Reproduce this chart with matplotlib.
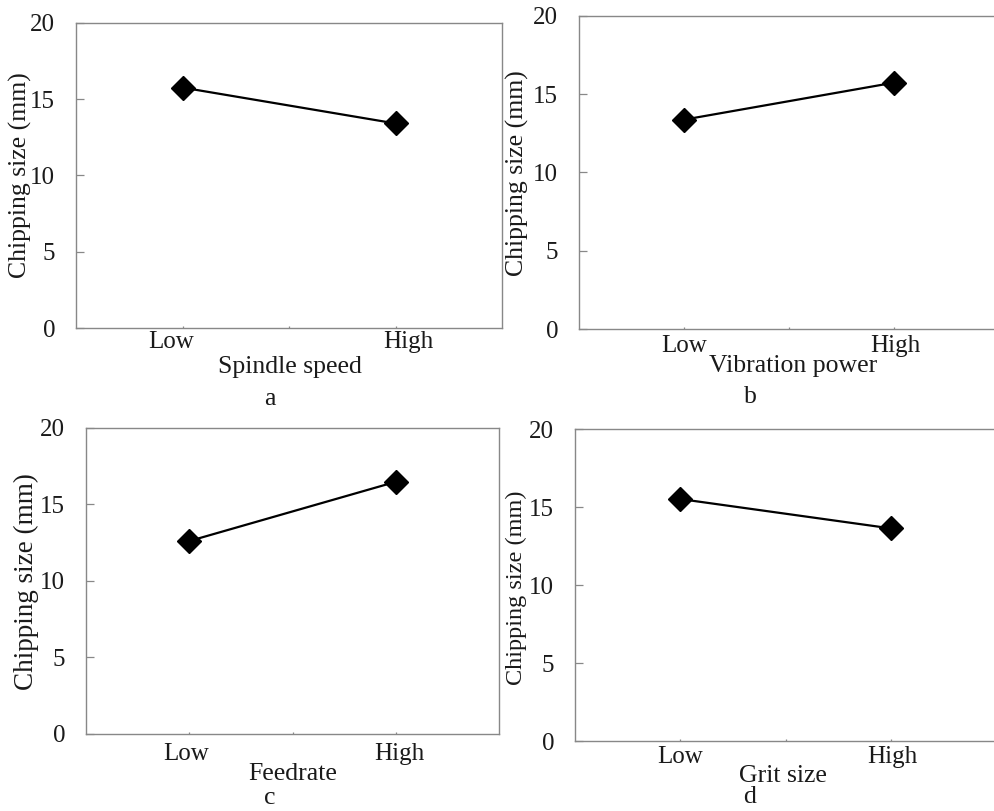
import matplotlib
matplotlib.use("Agg")
import matplotlib.pyplot as plt
from matplotlib.transforms import ScaledTranslation

plt.rcParams['font.family'] = ['Liberation Serif', 'DejaVu Serif']

categories = ["Low", "High"]
spindle_speed = [15.75, 13.4]
vibration_power = [13.37, 15.73]
feedrate = [12.6, 16.47]
grit_size = [15.51, 13.63]

xlabels = ["Spindle speed", "Vibration power", "Feedrate", "Grit size"]
ylabel = "Chipping size (mm)"
panel_tags = ["a", "b", "c", "d"]
series = [spindle_speed, vibration_power, feedrate, grit_size]

W, H = 994, 811
fig = plt.figure(figsize=(W / 100, H / 100), dpi=100)

# axes boxes in pixels: left, right, top, bottom
boxes = [(76, 502, 22.7, 328), (579, 999, 15.7, 329.3),
         (86, 499.3, 427.7, 734), (575, 996, 429, 741)]
ylab_pos = [(20, 175), (517, 173), (26, 582), (516, 588)]
xlab_pos = [(290, 373), (793, 372), (293, 780), (783, 782)]
tag_pos = [(270, 405), (750, 403), (270, 804), (750, 803)]
ylab_size = [18.5, 18.5, 19.5, 17.5]
xtick_pad = [2.0, 4.3, 6.7, 3.8]
xtick_shift = [(-11, 13), (0, 1), (-3, 3), (0, 2)]

frame_col = "#888888"
text_col = "#1a1a1a"

for i, (vals, box) in enumerate(zip(series, boxes)):
    l, r, t, b = box
    ax = fig.add_axes([l / W, 1 - b / H, (r - l) / W, (b - t) / H])
    x = list(range(len(categories)))
    ax.plot(x, vals, color="black", lw=1.6, marker="D", ms=12,
            markerfacecolor="black", markeredgecolor="black", clip_on=False)
    ax.set_xlim(-0.5, 1.5)
    ax.set_ylim(0, 20)
    ax.set_yticks([0, 5, 10, 15, 20])
    ax.set_xticks(x)
    ax.set_xticklabels(categories)
    ax.set_xticks([0.5], minor=True)
    for s in ax.spines.values():
        s.set_color(frame_col)
        s.set_linewidth(1.0)
    ax.tick_params(axis="y", direction="in", length=5.5, width=0.9,
                   color=frame_col, pad=15, labelsize=18, labelcolor=text_col)
    ax.tick_params(axis="x", which="both", direction="in", length=1.5, width=0.9,
                   color=frame_col, pad=xtick_pad[i], labelsize=18, labelcolor=text_col)
    for lab, dx in zip(ax.get_xticklabels(), xtick_shift[i]):
        lab.set_transform(lab.get_transform() +
                          ScaledTranslation(dx / 100, 0, fig.dpi_scale_trans))
    ax.set_ylabel(ylabel, fontsize=ylab_size[i], color=text_col, va="center", ha="center")
    ax.yaxis.set_label_coords(ylab_pos[i][0] / W, 1 - ylab_pos[i][1] / H,
                              transform=fig.transFigure)
    ax.set_xlabel(xlabels[i], fontsize=18.5, color=text_col, va="baseline", ha="center")
    ax.xaxis.set_label_coords(xlab_pos[i][0] / W, 1 - xlab_pos[i][1] / H,
                              transform=fig.transFigure)
    fig.text(tag_pos[i][0] / W, 1 - tag_pos[i][1] / H, panel_tags[i],
             fontsize=18.5, color=text_col, ha="center", va="baseline")

fig.savefig("out.png", dpi=100)
